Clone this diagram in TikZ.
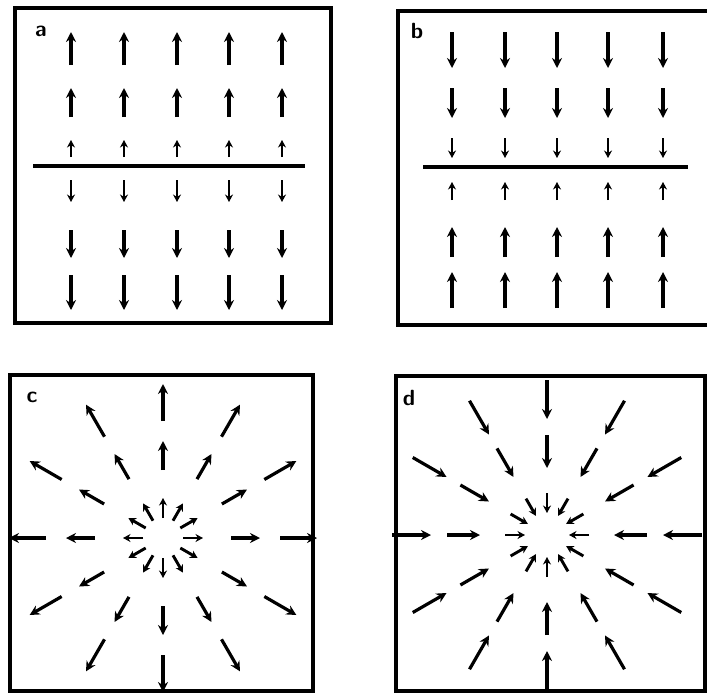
\documentclass[tikz,border=0pt]{standalone}
\usetikzlibrary{arrows.meta, positioning}
\tikzset{
    field/.style={-{Stealth[length=10pt,width=10pt]}, line width=3.2pt}, % field arrows
    short field/.style={-{Stealth[length=7.5pt,width=8pt]}, line width=2.9pt}, % arrows near the charge
    panel/.style={line width=4pt}, % frame of each picture
    plane/.style={line width=3.6pt}, % the charged sheet
    tag/.style={font=\sffamily\bfseries\fontsize{22}{22}\selectfont, inner sep=0pt},
}
\begin{document}
\begin{tikzpicture}[x=1pt, y=-1pt]
    \useasboundingbox (0,0) rectangle (707,694);
    \clip (0,0) rectangle (707,694);

    % Frames
    \draw[panel] (15,8) rectangle (331,323);
    \draw[panel] (398,11) rectangle (714,325);
    \draw[panel] (10,375) rectangle (313,691);
    \draw[panel] (396,376) rectangle (705,691);

    % Labels
    \node[tag] (la) at (41,31) {a};
    \node[tag] (lb) at (417,31) {b};
    \node[tag] (lc) at (32,397) {c};
    \node[tag] (ld) at (409,398) {d};

    % a: field leaving the sheet
    \draw[plane] (33,166) -- (305,166);
    \foreach \x in {71,124,177,229,282} {
        \foreach \ya/\yb in {65/32, 117/88, 230/258, 275/310}
            \draw[field] (\x,\ya) -- (\x,\yb);
        \foreach \ya/\yb in {157/140, 180/202}
            \draw[short field] (\x,\ya) -- (\x,\yb);
    }

    % b: field entering the sheet
    \draw[plane] (423,167) -- (688,167);
    \foreach \x in {452,505,557,608,663} {
        \foreach \ya/\yb in {32/68, 88/118, 257/227, 308/272}
            \draw[field] (\x,\ya) -- (\x,\yb);
        \foreach \ya/\yb in {138/158, 200/182}
            \draw[short field] (\x,\ya) -- (\x,\yb);
    }

    % c: field leaving a point charge
    \begin{scope}[shift={(163,538)}]
        \foreach \a in {0,30,...,330} {
            \draw[short field] (\a:20) -- (\a:40);
            \draw[field] (\a:68) -- (\a:97);
            \draw[field] (\a:117) -- (\a:154);
        }
    \end{scope}

    % d: field entering a point charge
    \begin{scope}[shift={(547,535)}]
        \foreach \a in {0,30,...,330} {
            \draw[short field] (\a:42) -- (\a:22);
            \draw[field] (\a:100) -- (\a:67);
            \draw[field] (\a:155) -- (\a:116);
        }
    \end{scope}
\end{tikzpicture}
\end{document}
